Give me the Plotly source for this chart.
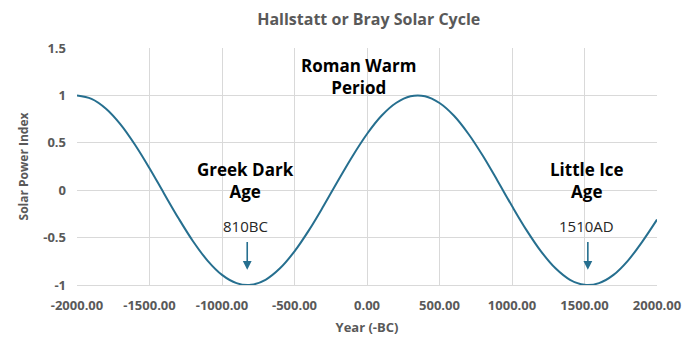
import plotly.graph_objects as go

years = list(range(-2000, 2001, 100))
solar_index = [1.00, 0.964, 0.860, 0.695, 0.480, 0.232, -0.034, -0.296, -0.538, -0.742,
               -0.893, -0.980, -0.998, -0.945, -0.824, -0.645, -0.421, -0.167, 0.100, 0.359,
               0.593, 0.785, 0.920, 0.991, 0.991, 0.920, 0.785, 0.593, 0.360, 0.100,
               -0.167, -0.421, -0.645, -0.824, -0.945, -0.998, -0.980, -0.893, -0.742, -0.539,
               -0.31]

x_ticks = [-2000, -1500, -1000, -500, 0, 500, 1000, 1500, 2000]
x_tick_labels = ["-2000.00", "-1500.00", "-1000.00", "-500.00", "0.00", "500.00", "1000.00", "1500.00", "2000.00"]
y_ticks = [-1, -0.5, 0, 0.5, 1, 1.5]
y_tick_labels = ["-1", "-0.5", "0", "0.5", "1", "1.5"]

period_labels = ["Greek Dark<br>Age", "Roman Warm<br>Period", "Little Ice<br>Age"]
period_x = [-840, -60, 1520]
period_y = [0.10, 1.20, 0.10]
minima_labels = ["810BC", "1510AD"]
minima_x = [-826, 1523]

line_color = "#266f8f"
grid_color = "#d9d9d9"
tick_color = "#595959"
font_family = "Open Sans, Liberation Sans, sans-serif"

fig = go.Figure()
fig.add_trace(go.Scatter(x=years, y=solar_index, mode="lines",
                         line=dict(color=line_color, width=2, shape="spline"),
                         hoverinfo="skip", showlegend=False))

annotations = []
for txt, xv, yv in zip(period_labels, period_x, period_y):
    annotations.append(dict(x=xv, y=yv, xref="x", yref="y", text=txt, showarrow=False,
                            font=dict(family=font_family, size=17, color="#000000", weight="bold"),
                            align="center"))
for txt, xv in zip(minima_labels, minima_x):
    annotations.append(dict(x=xv - 10, y=-0.38, xref="x", yref="y", text=txt, showarrow=False,
                            font=dict(family=font_family, size=15, color="#262626")))
    annotations.append(dict(x=xv, y=-0.84, ax=xv, ay=-0.53, xref="x", yref="y",
                            axref="x", ayref="y", text="", showarrow=True,
                            arrowhead=2, arrowsize=1.1, arrowwidth=1.6, arrowcolor=line_color))

fig.update_layout(
    width=696, height=353,
    margin=dict(l=77, r=39, t=48, b=68),
    paper_bgcolor="white", plot_bgcolor="white",
    title=dict(text="Hallstatt or Bray Solar Cycle", x=0.503, xanchor="center", y=0.945, yanchor="middle",
               xref="paper",
               font=dict(family=font_family, size=16, color=tick_color, weight="bold")),
    xaxis=dict(range=[-2000, 2000], tickvals=x_ticks, ticktext=x_tick_labels,
               showgrid=True, gridcolor=grid_color, gridwidth=1, zeroline=False,
               showline=True, linecolor=grid_color, mirror=False,
               ticklabelstandoff=8,
               tickfont=dict(family=font_family, size=13, color=tick_color, weight="bold"),
               title=dict(text="Year (-BC)", standoff=10,
                          font=dict(family=font_family, size=13, color=tick_color, weight="bold"))),
    yaxis=dict(range=[-1, 1.5], tickvals=y_ticks, ticktext=y_tick_labels,
               showgrid=True, gridcolor=grid_color, gridwidth=1, zeroline=False,
               tickfont=dict(family=font_family, size=13, color=tick_color, weight="bold"),
               ticklabelstandoff=10,
               title=dict(text="Solar Power Index", standoff=12,
                          font=dict(family=font_family, size=12, color=tick_color, weight="bold"))),
    annotations=annotations,
)

fig.write_html("out.html")
